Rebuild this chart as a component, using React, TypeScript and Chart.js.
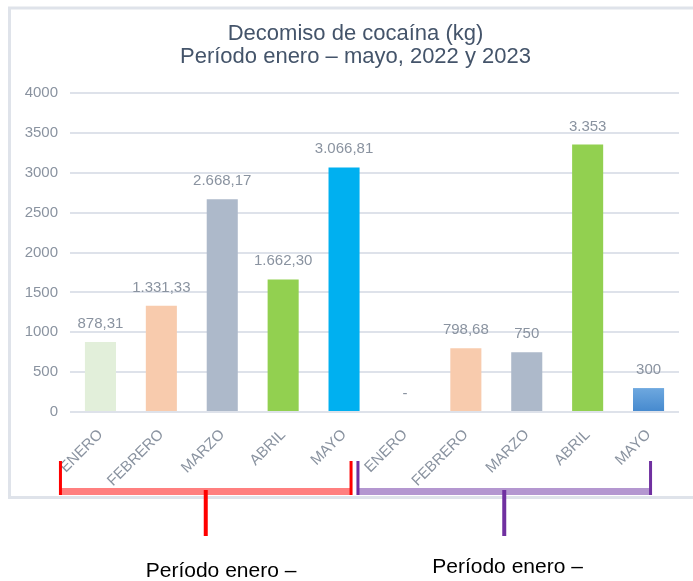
import { useEffect, useRef } from "react";
import { Chart, registerables } from "chart.js";

Chart.register(...registerables);

const categories = ["ENERO", "FEBRERO", "MARZO", "ABRIL", "MAYO", "ENERO", "FEBRERO", "MARZO", "ABRIL", "MAYO"];
const values = [878.31, 1331.33, 2668.17, 1662.3, 3066.81, 0, 798.68, 750, 3353, 300];
const valueLabels = ["878,31", "1.331,33", "2.668,17", "1.662,30", "3.066,81", "-", "798,68", "750", "3.353", "300"];
const barColors = ["#E2EFDA", "#F8CBAD", "#ADB9CA", "#92D050", "#00B0F0", "#E2EFDA", "#F8CBAD", "#ADB9CA", "#92D050", "#5B9BD5"];
const titleLines = ["Decomiso de cocaína (kg)", "Período enero – mayo, 2022 y 2023"];
const groupLabels = ["Período enero –", "Período enero –"];
const groupRanges = [[0, 4], [5, 9]];
const yMax = 4000;
const yStep = 500;

const FONT = "'Liberation Sans', Arial, sans-serif";
const bracketStyles = [
  { band: "#FF7F7F", line: "#FF0000" },
  { band: "#B497D0", line: "#7030A0" },
];

const decorPlugin = {
  id: "decor",
  beforeDraw(chart: any) {
    const ctx = chart.ctx;
    ctx.save();
    ctx.strokeStyle = "#DFE3EA";
    ctx.lineWidth = 3;
    ctx.beginPath();
    ctx.moveTo(700, 8);
    ctx.lineTo(9.5, 8);
    ctx.lineTo(9.5, 497.5);
    ctx.lineTo(700, 497.5);
    ctx.stroke();
    // title
    const ca = chart.chartArea;
    const cx = chart.width / 2 + 9;
    ctx.font = `22px ${FONT}`;
    ctx.fillStyle = "#44546A";
    ctx.textAlign = "center";
    ctx.textBaseline = "middle";
    titleLines.forEach((t, i) => {
      ctx.fillText(t, cx, ca.top - 59 + i * 23);
    });
    ctx.restore();
  },
  afterDatasetsDraw(chart: any) {
    const ctx = chart.ctx;
    const meta = chart.getDatasetMeta(0);
    ctx.save();
    ctx.font = `15px ${FONT}`;
    ctx.fillStyle = "#8A93A0";
    ctx.textAlign = "center";
    ctx.textBaseline = "alphabetic";
    meta.data.forEach((bar: any, i: number) => {
      ctx.fillText(valueLabels[i], bar.x, bar.y - 14);
    });
    ctx.restore();
  },
  afterDraw(chart: any) {
    const ctx = chart.ctx;
    const xs = chart.scales.x;
    const bottom = chart.chartArea.bottom;
    ctx.save();
    groupRanges.forEach((r, gi) => {
      const st = bracketStyles[gi];
      const left = gi === 0 ? xs.getPixelForValue(r[0]) - 40 : xs.getPixelForValue(r[0]) - 47;
      const right = gi === 0 ? xs.getPixelForValue(r[1]) + 7 : xs.getPixelForValue(r[1]) + 2;
      const mid = (left + right) / 2;
      const yTop = bottom + 49;
      const yBand = bottom + 76;
      const yBandB = bottom + 83;
      const yTip = bottom + 124;
      ctx.fillStyle = st.band;
      ctx.fillRect(left, yBand, right - left, yBandB - yBand);
      ctx.fillStyle = st.line;
      ctx.fillRect(left - 1.5, yTop, 3, yBandB - yTop);
      ctx.fillRect(right - 1.5, yTop, 3, yBandB - yTop);
      ctx.fillRect(mid - 2, yBand + 2, 4, yTip - yBand - 2);
      ctx.font = `21px ${FONT}`;
      ctx.fillStyle = "#000000";
      ctx.textAlign = "left";
      ctx.textBaseline = "alphabetic";
      ctx.fillText(groupLabels[gi], gi === 0 ? mid - 60 : mid - 72, gi === 0 ? bottom + 165 : bottom + 161);
    });
    ctx.restore();
  },
};

export default function App() {
  const ref = useRef<HTMLCanvasElement | null>(null);
  useEffect(() => {
    document.body.style.margin = "0";
    const canvas = ref.current;
    if (!canvas) return;
    const chart = new Chart(canvas, {
      type: "bar",
      data: {
        labels: categories,
        datasets: [
          {
            data: values,
            backgroundColor: (c: any) => {
              const i = c.dataIndex;
              if (i === 9 && c.chart.chartArea) {
                const ys = c.chart.scales.y;
                const top = ys.getPixelForValue(values[9]);
                const bot = ys.getPixelForValue(0);
                const g = c.chart.ctx.createLinearGradient(0, top, 0, bot);
                g.addColorStop(0, "#6EA8DF");
                g.addColorStop(1, "#4589CE");
                return g;
              }
              return barColors[i];
            },
            borderWidth: 0,
            barPercentage: 0.51,
            categoryPercentage: 1,
          },
        ],
      },
      options: {
        responsive: true,
        maintainAspectRatio: false,
        animation: false,
        layout: { padding: { left: 8, right: 14, top: 93, bottom: 0 } },
        plugins: {
          legend: { display: false },
          tooltip: { enabled: false },
          title: { display: false },
        },
        scales: {
          x: {
            grid: { display: false },
            border: { display: false },
            ticks: {
              color: "#8A93A0",
              font: { family: FONT, size: 15 },
              minRotation: 45,
              maxRotation: 45,
              padding: 6,
              autoSkip: false,
            },
            afterFit: (s: any) => {
              s.height = 169;
            },
          },
          y: {
            min: 0,
            max: yMax,
            ticks: {
              stepSize: yStep,
              color: "#8A93A0",
              font: { family: FONT, size: 15 },
              padding: 12,
              callback: (v: any) => String(v),
            },
            grid: { color: "#DEE2EA", lineWidth: 2, drawTicks: false },
            border: { display: false },
            afterFit: (s: any) => {
              s.width = 62;
            },
          },
        },
      },
      plugins: [decorPlugin],
    });
    return () => chart.destroy();
  }, []);
  return (
    <div style={{ width: 693, height: 581, position: "relative" }}>
      <canvas ref={ref} />
    </div>
  );
}
